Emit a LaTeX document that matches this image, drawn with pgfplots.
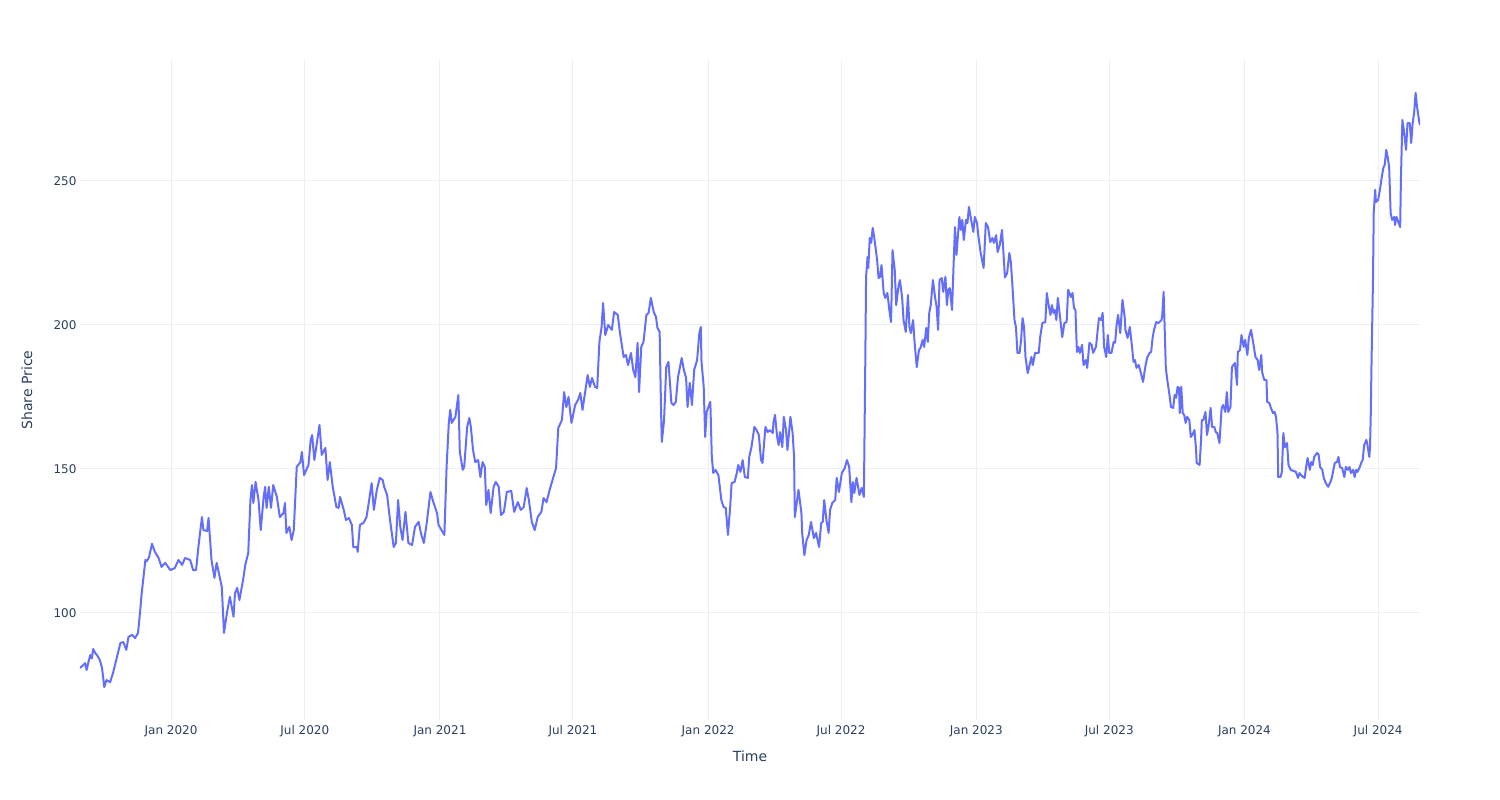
\documentclass[border=0pt]{standalone}
\usepackage{pgfplots}
\pgfplotsset{compat=1.18}
\usepackage{pgfplotstable}
\usepackage{fontspec}
\setmainfont{DejaVu Sans}
\definecolor{plotblue}{HTML}{636EFA}
\definecolor{gridc}{HTML}{EBF0F8}
\definecolor{txtc}{HTML}{2A3F5F}
% x = days since 2020-01-01, y = share price
\pgfplotstableread{
d p
-124 80.9
-120 81.8
-117 82.6
-115 80.2
-112 83.5
-110 85.4
-108 84.2
-106 87.5
-103 86.0
-101 85.4
-97 83.7
-94 80.9
-91 74.3
-88 76.7
-83 76.0
-79 79.2
-74 84.4
-69 89.6
-65 89.9
-61 87.2
-58 91.7
-53 92.4
-49 91.3
-45 93.1
-42 101
-40 106.9
-38 111.5
-35 118.4
-33 118
-30 119.4
-26 124
-22 121.2
-17 119.1
-13 116
-8 117.4
-1 114.9
5 115.6
10 118.4
15 116.7
19 119.1
26 118.4
30 114.9
34 114.9
37 122.6
42 133.3
44 128.8
49 128.5
51 133
55 118.4
59 112.2
62 117.4
67 111.5
69 109
72 93.1
76 100
80 105.6
85 98.7
87 106.9
90 108.7
93 104.5
98 111.5
101 116.7
105 120.8
108 139.2
110 144.4
112 138.2
115 145.5
119 139.2
122 128.8
126 140.3
128 143.8
130 136.5
133 143.8
136 136.5
139 144.4
144 140.3
148 133.3
153 134.7
155 138.2
157 127.8
161 129.9
164 125.3
167 128.8
171 150.7
176 152.4
178 155.9
181 147.9
187 151.4
190 160.1
192 161.8
195 153.1
198 158.3
202 165.3
205 154.9
210 157.3
213 146.2
216 152.4
220 143.8
225 136.8
228 136.5
230 140.3
235 135.8
238 132.3
242 133
246 130.6
248 122.9
253 122.9
254 121.2
257 130.6
262 131.3
266 133.3
269 138.2
273 145.1
276 135.8
280 142.7
284 146.9
288 146.2
290 143.8
294 141
298 132.3
303 122.9
306 124.3
309 139.2
312 129.9
315 125.3
319 135.1
323 124.3
328 123.6
332 129.9
337 131.6
340 127.8
344 124.3
348 131.3
353 142
357 138.5
362 134.7
364 130.6
368 128.8
372 127.1
375 150.7
378 166
380 170.5
382 166
387 168.1
391 175.7
393 155.9
397 149.7
399 150.7
403 164.6
406 167.7
408 164.6
411 156.6
414 152.4
418 153.1
421 147.2
424 152.4
427 150.7
429 137.5
432 142.7
435 134.7
439 143.8
442 145.5
446 143.8
449 134
453 135.1
457 142
463 142.4
467 135.1
472 138.5
476 135.8
480 136.8
484 143.4
487 139.2
491 131.6
495 128.8
499 133.3
504 135.1
507 139.9
511 138.5
516 143.4
520 146.9
524 150.3
527 164.2
532 167
535 176.7
538 171.5
541 175
545 166
550 172.2
554 174
557 176.4
560 170.5
564 177.4
567 182.6
570 178.5
573 181.6
577 178.5
580 178.1
583 194.1
586 199.3
588 207.6
591 196.5
595 200
600 198.3
603 204.5
608 203.5
611 197.2
616 188.9
619 189.6
622 186.1
626 190.3
629 184.4
632 181.9
635 193.8
637 176.7
640 192.4
643 194.1
647 203.5
650 204.2
653 209.4
657 204.5
660 202.8
662 199
665 197.6
667 169.4
668 159.4
671 167
674 185.4
677 187.2
681 172.9
684 172.2
687 173.3
690 181.9
695 188.5
698 184.4
701 181.6
703 171.5
706 179.9
709 172.2
712 184.4
716 187.8
719 197
721 199.3
722 187.2
725 178.5
727 161.1
729 169.8
734 173.3
736 154.2
738 148.6
741 149.7
745 147.9
749 139.2
752 136.8
755 136.5
758 127.1
761 136.8
763 145.1
767 145.5
770 148.6
772 151.4
775 149
778 153.1
781 147.2
785 146.9
787 154.2
790 157.6
794 164.6
797 163.5
800 161.8
803 153.1
805 152.1
809 164.6
812 162.8
815 163.5
819 162.5
820 166.3
822 168.8
825 161.1
827 158.3
829 162.8
832 157.6
834 168.1
837 163.5
839 156.6
843 168.1
846 162.5
848 154.2
849 133.3
854 142.7
858 134.7
859 127.8
862 120.1
865 125.3
868 127.1
871 131.6
875 126
878 127.8
882 122.9
885 131.3
887 131.6
889 139.2
892 132.3
895 127.8
897 135.8
900 138.2
904 139.2
906 146.9
909 142
913 148.6
917 150.3
920 153.1
923 150.7
926 138.5
928 145.5
930 141.7
933 146.9
937 141
940 143.4
943 140.3
945 188.9
946 216.7
948 223.6
949 219.8
951 230.2
953 228.5
955 233.7
957 230.6
961 222.6
963 216.3
965 216.7
967 220.8
970 211.1
972 209.4
975 211.1
978 204.5
980 201
982 226
985 219.1
987 206.9
990 213.2
992 215.6
995 209.7
997 201.7
1000 197.6
1003 210.4
1005 199.3
1007 197.2
1010 201.7
1012 194.1
1015 185.4
1018 191.3
1020 192
1023 194.8
1025 192.4
1028 199
1030 194.1
1032 204.2
1034 206.9
1037 215.6
1040 209.4
1042 206.3
1044 198.3
1046 215.6
1049 216.3
1051 211.5
1054 216.7
1056 206.9
1058 212.2
1060 212.8
1063 205.2
1065 220.1
1067 234
1069 224.3
1073 237.5
1075 233
1077 236.5
1079 229.5
1082 236.5
1084 235.4
1086 241
1089 236.5
1092 232.3
1094 237.5
1097 235.4
1099 230.6
1102 225
1106 219.8
1109 235.4
1112 234
1115 228.8
1118 230.2
1120 228.5
1123 231.2
1125 225.3
1128 227.8
1131 233
1133 225
1135 216.5
1138 218
1141 225
1143 221.9
1145 214.6
1148 201.7
1150 199.3
1152 190.3
1155 190.3
1157 194.8
1159 202.4
1161 199.3
1163 188.9
1166 183.3
1168 185.4
1171 188.9
1173 186.1
1176 190.3
1181 190.3
1183 195.8
1186 200.7
1190 201
1192 211.1
1194 207.6
1197 203.5
1199 206.9
1201 204.2
1203 205.2
1205 201.7
1207 209.4
1210 202.8
1213 195.8
1216 200.7
1219 201
1221 212.2
1225 209.7
1227 211.1
1229 205.9
1231 205.2
1233 190.6
1235 192.4
1237 190.3
1240 193.1
1242 186.1
1245 187.8
1247 185.1
1250 193.8
1253 193.1
1255 190.3
1259 192.4
1261 197.6
1263 202.4
1266 201.7
1268 204.2
1270 192.4
1273 188.9
1275 196.5
1277 190.3
1280 190.3
1283 194.1
1285 193.8
1287 200
1289 203.5
1292 197.2
1295 208.7
1298 202.8
1299 198.3
1302 195.5
1305 199.3
1308 192.4
1310 187.2
1312 187.8
1314 185.1
1317 186.1
1319 184.4
1323 180.2
1325 183.7
1327 186.8
1329 188.9
1332 190.3
1334 190.6
1336 195.5
1338 198.3
1341 201
1344 200.7
1348 201.7
1349 202.8
1351 211.5
1352 202.8
1354 185.1
1356 180.9
1359 175.7
1361 171.5
1364 171.2
1366 175.7
1368 174.7
1370 178.5
1372 178.1
1373 169.4
1375 178.5
1377 169.4
1379 168.8
1381 166
1383 168.1
1386 167
1388 161.1
1390 161.8
1393 163.5
1395 157.3
1396 152.1
1400 151.4
1402 160.1
1403 167
1405 167
1408 169.8
1410 161.8
1412 164.6
1415 171.2
1417 164.6
1420 164.6
1422 162.8
1424 162.5
1427 159
1430 171.2
1432 172.2
1435 169.8
1437 176.7
1439 169.8
1442 171.5
1444 185.4
1446 186.1
1448 186.8
1451 179.2
1452 190.6
1455 191.3
1457 196.5
1460 192.4
1462 194.8
1465 189.6
1467 195.5
1470 198.3
1473 193.8
1476 188.9
1479 187.8
1481 184.4
1484 189.6
1485 183.7
1488 180.9
1491 180.9
1492 173.3
1495 172.9
1497 171.2
1500 169.4
1502 169.8
1504 168.1
1506 162.5
1507 147.2
1510 147.2
1512 149
1514 162.5
1516 157.6
1519 159
1521 151.4
1524 149.7
1528 149.3
1531 149
1534 146.9
1536 148.6
1538 147.9
1541 147.2
1543 146.9
1545 150.7
1547 153.8
1550 149.7
1552 152.4
1554 151.4
1556 154.2
1560 155.6
1562 155
1564 150.7
1567 149.7
1569 146.9
1572 145
1575 143.8
1578 145.5
1580 146.9
1584 152.1
1587 152.4
1589 154.2
1591 150.7
1594 150.3
1597 147.2
1599 150.7
1602 149.7
1604 150.7
1606 148.6
1609 149.7
1611 147.2
1613 149.7
1615 149
1618 150.7
1620 152.1
1622 153.1
1624 158.3
1627 160.1
1628 159
1631 154.2
1632 157.6
1633 169.4
1634 186.8
1636 215.6
1637 238.9
1639 246.9
1640 242.7
1643 243.4
1646 247.9
1648 251.4
1650 254.5
1652 255.6
1654 260.8
1656 258.3
1658 254.9
1660 238.9
1662 236.5
1665 237.5
1666 234.7
1668 237.5
1671 235.4
1673 234
1674 250.3
1676 271.2
1678 267.7
1681 260.8
1683 270.1
1686 270.1
1688 263.2
1690 270.1
1692 273.6
1694 280.6
1696 275.7
1699 270.5
1700 269.4
}\pricedata
\begin{document}
\begin{tikzpicture}[x=1pt,y=1pt]
\useasboundingbox (0,0) rectangle (1500,800);
\begin{axis}[
  at={(80pt,80pt)}, anchor=south west,
  scale only axis, width=1340pt, height=660pt,
  xmin=-124, xmax=1700, ymin=62.85, ymax=292,
  axis line style={draw=none},
  major tick length=0pt,
  xtick={0,182,366,547,731,912,1096,1277,1461,1643},
  xticklabels={Jan 2020,Jul 2020,Jan 2021,Jul 2021,Jan 2022,Jul 2022,Jan 2023,Jul 2023,Jan 2024,Jul 2024},
  ytick={100,150,200,250},
  grid=major,
  major grid style={color=gridc, line width=1pt},
  /pgf/number format/assume math mode=true,
  ticklabel style={font=\fontsize{12}{14}\selectfont, text=txtc},
  xticklabel style={yshift=-2pt},
  xlabel={Time}, ylabel={Share Price},
  label style={font=\fontsize{14}{16}\selectfont, text=txtc},
  xlabel style={at={(axis description cs:0.5,-0.0545)}, anchor=center},
  ylabel style={at={(axis description cs:-0.0396,0.5)}, anchor=center},
]
\addplot[color=plotblue, line width=2pt, line join=round, no marks] table[x=d, y=p] {\pricedata};
\end{axis}
\end{tikzpicture}
\end{document}
